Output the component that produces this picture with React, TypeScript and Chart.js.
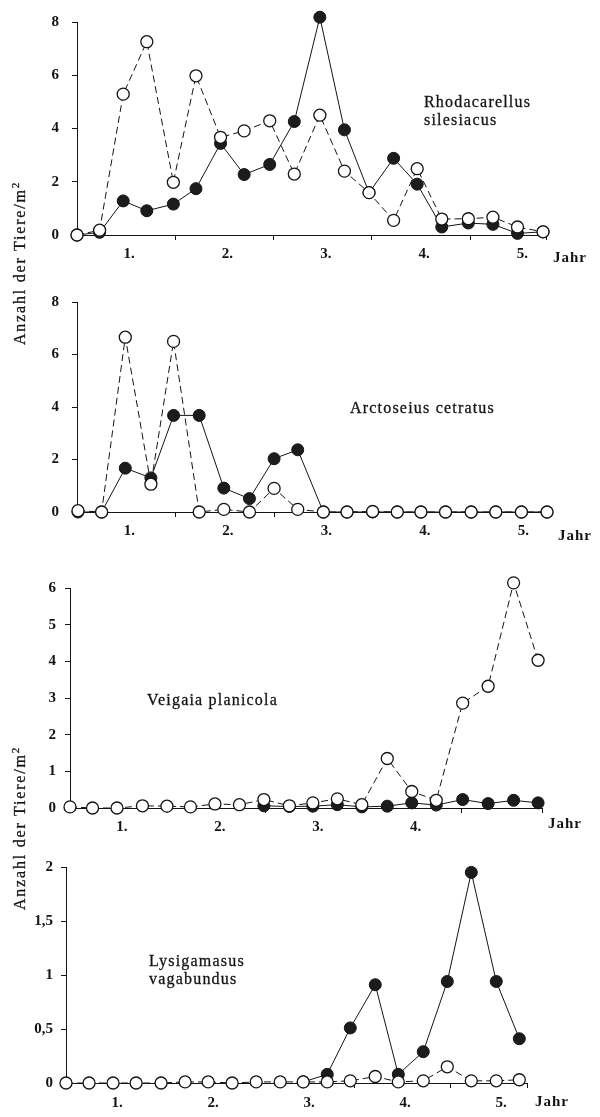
import React, { useEffect, useRef } from "react";
import { Chart, registerables } from "chart.js";

Chart.register(...registerables);

const SERIF = "'Liberation Serif', 'Times New Roman', serif";
const INK = "#141414";

// ---------------- data ----------------
const yearLabels = ["1.", "2.", "3.", "4.", "5."];

// Rhodacarellus silesiacus
const rhodaYears = [0, 0.23, 0.47, 0.71, 0.98, 1.21, 1.46, 1.7, 1.96, 2.21, 2.47, 2.72, 2.97, 3.22, 3.46, 3.71, 3.98, 4.23, 4.48, 4.74];
const rhodaOpen = [0, 0.18, 5.29, 7.26, 1.98, 5.98, 3.67, 3.91, 4.29, 2.29, 4.5, 2.4, 1.59, 0.55, 2.49, 0.6, 0.61, 0.67, 0.3, 0.12];
const rhodaFilled = [0, 0.1, 1.28, 0.91, 1.16, 1.74, 3.44, 2.27, 2.65, 4.26, 8.18, 3.95, 1.59, 2.88, 1.91, 0.3, 0.45, 0.4, 0.06, 0.12];
const rhodaYTicks = [0, 2, 4, 6, 8];

// Arctoseius cetratus
const arctoYears = [0.01, 0.25, 0.49, 0.75, 0.98, 1.24, 1.49, 1.75, 2.0, 2.24, 2.5, 2.74, 3.0, 3.25, 3.49, 3.74, 4.0, 4.25, 4.51, 4.77];
const arctoOpen = [0.05, 0, 6.66, 1.06, 6.5, 0, 0.1, 0, 0.9, 0.1, 0, 0, 0.02, 0, 0, 0, 0, 0, 0, 0];
const arctoFilled = [0, 0, 1.67, 1.3, 3.68, 3.68, 0.91, 0.51, 2.03, 2.37, 0, 0, 0, 0, 0, 0, 0, 0, 0, 0];
const arctoYTicks = [0, 2, 4, 6, 8];

// Veigaia planicola
const veigaiaYears = [0, 0.23, 0.48, 0.74, 0.99, 1.23, 1.48, 1.73, 1.98, 2.24, 2.48, 2.73, 2.98, 3.24, 3.49, 3.74, 4.01, 4.27, 4.53, 4.78];
const veigaiaOpen = [0.03, 0, 0, 0.06, 0.05, 0.03, 0.11, 0.09, 0.23, 0.06, 0.14, 0.25, 0.09, 1.35, 0.45, 0.21, 2.86, 3.32, 6.14, 4.03];
const veigaiaFilled = [null, null, null, null, null, null, null, null, 0.06, 0.04, 0.05, 0.09, 0.03, 0.05, 0.14, 0.08, 0.23, 0.12, 0.21, 0.14];
const veigaiaYTicks = [0, 1, 2, 3, 4, 5, 6];

// Lysigamasus vagabundus
const lysiYears = [0, 0.24, 0.49, 0.73, 0.99, 1.24, 1.48, 1.73, 1.98, 2.23, 2.47, 2.72, 2.96, 3.22, 3.46, 3.72, 3.97, 4.22, 4.48, 4.72];
const lysiOpen = [0, 0, 0, 0, 0, 0.01, 0.01, 0, 0.01, 0.01, 0.01, 0.01, 0.02, 0.06, 0.01, 0.02, 0.15, 0.02, 0.02, 0.03];
const lysiFilled = [null, null, null, null, null, null, null, null, null, null, 0.01, 0.08, 0.51, 0.91, 0.08, 0.29, 0.94, 1.95, 0.94, 0.41];
const lysiYTicks = [0, 0.5, 1, 1.5, 2];

// ---------------- layout ----------------
interface PanelCfg {
  years: number[];
  open: (number | null)[];
  filled: (number | null)[];
  yTicks: number[];
  nLabels: number;
  top: number;
  height: number;
  x0: number;
  right: number;
  plotTop: number;
  plotBottom: number;
  xMax: number;
  yPad: number;
  xPad: number;
}

const panels: PanelCfg[] = [
  { years: rhodaYears, open: rhodaOpen, filled: rhodaFilled, yTicks: rhodaYTicks, nLabels: 5,
    top: 0, height: 275, x0: 77, right: 546, plotTop: 15.7, plotBottom: 235, xMax: 4.77, yPad: 13, xPad: 5 },
  { years: arctoYears, open: arctoOpen, filled: arctoFilled, yTicks: arctoYTicks, nLabels: 5,
    top: 280, height: 275, x0: 77, right: 550, plotTop: 13, plotBottom: 232, xMax: 4.8, yPad: 13, xPad: 5 },
  { years: veigaiaYears, open: veigaiaOpen, filled: veigaiaFilled, yTicks: veigaiaYTicks, nLabels: 4,
    top: 560, height: 290, x0: 70, right: 542, plotTop: 28, plotBottom: 248, xMax: 4.82, yPad: 9, xPad: 5 },
  { years: lysiYears, open: lysiOpen, filled: lysiFilled, yTicks: lysiYTicks, nLabels: 5,
    top: 850, height: 267, x0: 66, right: 527, plotTop: 13, plotBottom: 233, xMax: 4.8, yPad: 8, xPad: 6 },
];

const species = [
  { lines: ["Rhodacarellus", "silesiacus"], left: 424, baseline: 107 },
  { lines: ["Arctoseius cetratus"], left: 350, baseline: 413 },
  { lines: ["Veigaia planicola"], left: 147, baseline: 705 },
  { lines: ["Lysigamasus", "vagabundus"], left: 149, baseline: 966 },
];

const jahrPos = [
  { left: 553, cy: 257 },
  { left: 558, cy: 535 },
  { left: 548, cy: 823 },
  { left: 535, cy: 1101 },
];

const yTitles = [{ cx: 20, cy: 263 }, { cx: 20, cy: 828 }];

const tickFont = { family: SERIF, size: 15, weight: "bold" as const };

function Panel({ cfg }: { cfg: PanelCfg }) {
  const ref = useRef<HTMLCanvasElement>(null);
  useEffect(() => {
    if (!ref.current) return;
    const xs = new Set<number>();
    for (let i = 0; i < cfg.nLabels; i++) xs.add(i + 0.5);
    for (let i = 0; i <= Math.floor(cfg.xMax); i++) xs.add(i);
    xs.add(cfg.xMax);
    const xTickVals = Array.from(xs).sort((a, b) => a - b);
    const isMark = (v: number) => Number.isInteger(v) || Math.abs(v - cfg.xMax) < 1e-9;
    const pts = (vals: (number | null)[]) => vals.map((v, i) => ({ x: cfg.years[i], y: v }));

    const chart = new Chart(ref.current, {
      type: "line",
      data: {
        datasets: [
          {
            data: pts(cfg.open) as any,
            borderColor: INK,
            borderWidth: 1,
            borderDash: [7, 4],
            pointRadius: 6,
            pointBackgroundColor: "#ffffff",
            pointBorderColor: INK,
            pointBorderWidth: 1.3,
            tension: 0,
            clip: false as any,
          },
          {
            data: pts(cfg.filled) as any,
            borderColor: INK,
            borderWidth: 1,
            pointRadius: 6,
            pointBackgroundColor: "#1c1c1c",
            pointBorderColor: INK,
            pointBorderWidth: 1,
            tension: 0,
            clip: false as any,
          },
        ],
      },
      options: {
        animation: false,
        responsive: false,
        maintainAspectRatio: false,
        events: [],
        layout: { padding: { top: cfg.plotTop, right: 600 - cfg.right, bottom: 0, left: 0 } },
        plugins: { legend: { display: false }, tooltip: { enabled: false }, title: { display: false } },
        scales: {
          x: {
            type: "linear",
            min: 0,
            max: cfg.xMax,
            afterBuildTicks: (s: any) => {
              s.ticks = xTickVals.map((v) => ({ value: v }));
            },
            afterFit: (s: any) => {
              s.height = cfg.height - cfg.plotBottom;
            },
            grid: {
              drawOnChartArea: false,
              drawTicks: true,
              tickLength: 5,
              tickWidth: 1,
              tickColor: (ctx: any) => (ctx.tick && isMark(ctx.tick.value) ? INK : "rgba(0,0,0,0)"),
            },
            border: { display: true, color: INK, width: 1 },
            ticks: {
              autoSkip: false,
              maxRotation: 0,
              minRotation: 0,
              padding: cfg.xPad,
              labelOffset: 3,
              color: INK,
              font: tickFont,
              callback: (v: any) => {
                const n = Number(v);
                if (Math.abs(n * 2 - Math.round(n * 2)) < 1e-9 && Math.round(n * 2) % 2 === 1) {
                  return yearLabels[Math.floor(n)] ?? "";
                }
                return "";
              },
            },
          },
          y: {
            type: "linear",
            min: 0,
            max: cfg.yTicks[cfg.yTicks.length - 1],
            afterBuildTicks: (s: any) => {
              s.ticks = cfg.yTicks.map((v) => ({ value: v }));
            },
            afterFit: (s: any) => {
              s.width = cfg.x0;
            },
            grid: { drawOnChartArea: false, drawTicks: true, tickLength: 5, tickWidth: 1, tickColor: INK },
            border: { display: true, color: INK, width: 1 },
            ticks: {
              padding: cfg.yPad,
              color: INK,
              font: tickFont,
              callback: (v: any) => String(v).replace(".", ","),
            },
          },
        },
      },
    });
    return () => chart.destroy();
  }, [cfg]);

  return (
    <canvas
      ref={ref}
      width={600}
      height={cfg.height}
      style={{ position: "absolute", left: 0, top: cfg.top, width: 600, height: cfg.height }}
    />
  );
}

export default function App() {
  const spFont = 16;
  const asc = 0.8375 * spFont;
  return (
    <div
      style={{
        position: "absolute",
        left: 0,
        top: 0,
        width: 600,
        height: 1117,
        background: "#ffffff",
        overflow: "hidden",
        fontFamily: SERIF,
        color: INK,
      }}
    >
      {panels.map((p, i) => (
        <Panel key={i} cfg={p} />
      ))}
      {species.map((s, i) =>
        s.lines.map((line, j) => (
          <div
            key={`${i}-${j}`}
            style={{
              position: "absolute",
              left: s.left,
              top: s.baseline + j * 18 - asc,
              fontSize: spFont,
              lineHeight: 1,
              letterSpacing: "1.2px",
              whiteSpace: "nowrap",
              WebkitTextStroke: "0.3px #141414",
            }}
          >
            {line}
          </div>
        ))
      )}
      {jahrPos.map((j, i) => (
        <div
          key={`j${i}`}
          style={{
            position: "absolute",
            left: j.left,
            top: j.cy - 7.5,
            fontSize: 15,
            lineHeight: "15px",
            fontWeight: "bold",
            letterSpacing: "1px",
            whiteSpace: "nowrap",
          }}
        >
          Jahr
        </div>
      ))}
      {yTitles.map((t, i) => (
        <div
          key={`t${i}`}
          style={{
            position: "absolute",
            left: t.cx - 100,
            top: t.cy - 10,
            width: 200,
            height: 20,
            lineHeight: "20px",
            textAlign: "center",
            transform: "rotate(-90deg)",
            fontSize: 16,
            letterSpacing: "1.8px",
            whiteSpace: "nowrap",
            WebkitTextStroke: "0.3px #141414",
          }}
        >
          Anzahl der Tiere/m<sup style={{ fontSize: 11, lineHeight: 0 }}>2</sup>
        </div>
      ))}
    </div>
  );
}
